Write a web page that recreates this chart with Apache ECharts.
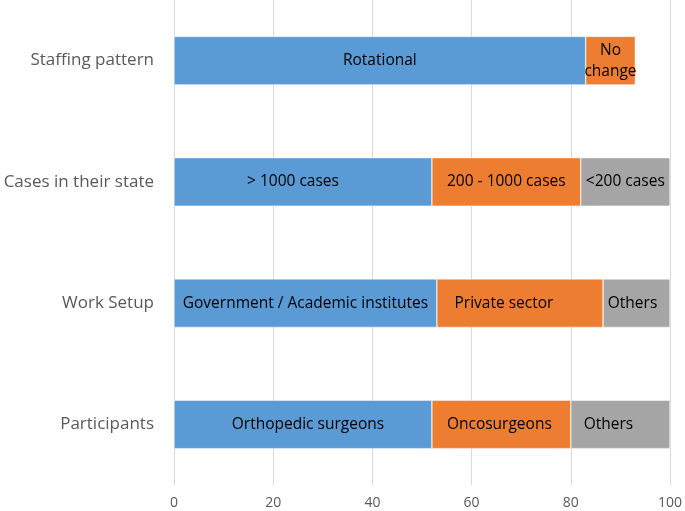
<!DOCTYPE html>
<html>
<head>
<meta charset="utf-8">
<script src="https://cdn.jsdelivr.net/npm/echarts@6/dist/echarts.min.js"></script>
<style>html,body{margin:0;padding:0;background:#fff;overflow:hidden}#c{width:685px;height:511px}</style>
</head>
<body>
<div id="c"></div>
<script>
const categories = ['Participants', 'Work Setup', 'Cases in their state', 'Staffing pattern'];
const firstValues = [52, 53, 52, 83];
const secondValues = [28, 33.5, 30, 10];
const thirdValues = [20, 13.5, 18, null];
const firstLabels = ['Orthopedic surgeons', 'Government / Academic institutes', '> 1000 cases', 'Rotational'];
const secondLabels = ['Oncosurgeons', 'Private sector', '200 - 1000 cases', 'No\nchange'];
const thirdLabels = ['Others', 'Others', '<200 cases', ''];
const xTicks = [0, 20, 40, 60, 80, 100];

// label nudges (style only)
const labelShift = [[5, 0, -10, 0], [-2, -16, 0, 0], [-12, -4, 0, 0]];

const FONT = 'Open Sans';
function mk(values, labels, color, si) {
  return {
    type: 'bar', stack: 'all', barWidth: '40%',
    data: values.map((v, i) => ({
      value: v,
      label: { offset: [labelShift[si][i], 0] }
    })),
    itemStyle: { color: color, borderColor: '#ffffff', borderWidth: 0.5 },
    label: {
      show: true, position: 'inside', color: '#000', fontFamily: FONT, fontSize: 15.5, lineHeight: 21,
      formatter: p => labels[p.dataIndex]
    }
  };
}
const chart = echarts.init(document.getElementById('c'), null, { renderer: 'canvas' });
chart.setOption({
  animation: false,
  grid: { left: 174, right: 12, top: 0, bottom: 26, containLabel: false },
  xAxis: {
    type: 'value', min: xTicks[0], max: xTicks[xTicks.length - 1], interval: 20,
    axisLine: { show: false }, axisTick: { show: false },
    axisLabel: { color: '#595959', fontFamily: FONT, fontSize: 14, margin: 11 },
    splitLine: { lineStyle: { color: '#d9d9d9', width: 1 } }
  },
  yAxis: {
    type: 'category', data: categories,
    axisLine: { show: true, lineStyle: { color: '#d9d9d9' } }, axisTick: { show: false },
    axisLabel: { color: '#595959', fontFamily: FONT, fontSize: 17, margin: 20 }
  },
  series: [
    mk(firstValues, firstLabels, '#5b9bd5', 0),
    mk(secondValues, secondLabels, '#ed7d31', 1),
    mk(thirdValues, thirdLabels, '#a5a5a5', 2)
  ]
});
</script>
</body>
</html>
